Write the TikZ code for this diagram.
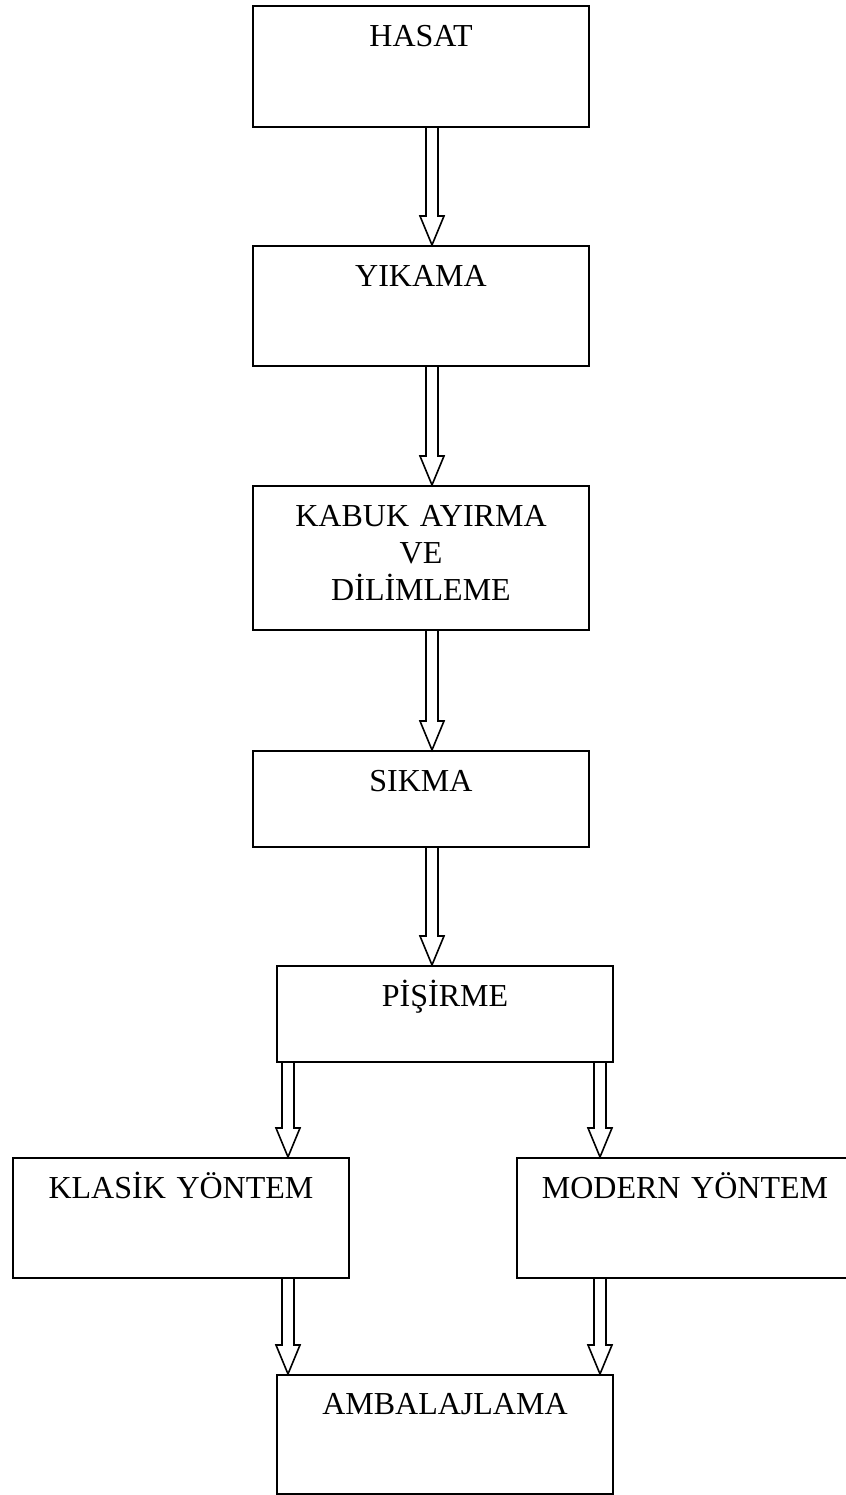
\documentclass[tikz,border=0pt]{standalone}
\usepackage{fontspec}
\setmainfont{Liberation Serif}
\usepackage{tikz}
\usetikzlibrary{calc}

% hollow block arrow from the bottom of #1 to the top of #2, at pixel x = #3
\newcommand{\blokok}[3]{%
  \draw[okcizgi] let \p1=(#1.south), \p2=(#2.north) in
    (#3*0.5pt-3pt,\y1) -- (#3*0.5pt-3pt,\y2+14.5pt) -- (#3*0.5pt-6pt,\y2+14.5pt)
    -- (#3*0.5pt,\y2) -- (#3*0.5pt+6pt,\y2+14.5pt) -- (#3*0.5pt+3pt,\y2+14.5pt)
    -- (#3*0.5pt+3pt,\y1);}

\begin{document}
\begin{tikzpicture}[x=0.5pt,y=-0.5pt,
  kutu/.style={draw, line width=1pt, inner sep=0pt, anchor=north west,
    align=center, text width=168pt, text height=20pt,
    font=\fontsize{16}{18.5}\selectfont},
  okcizgi/.style={draw, line width=0.8pt, line join=miter, fill=white}]

  \clip (0,0) rectangle (846,1495);

  % main chain
  \node[kutu, text depth=40.5pt] (hasat)  at (252,5)   {HASAT};
  \node[kutu, text depth=40pt]   (yikama) at (252,245) {YIKAMA};
  \node[kutu, text depth=52pt]   (kabuk)  at (252,485) {KABUK AYIRMA\\VE\\DİLİMLEME};
  \node[kutu, text depth=28pt]   (sikma)  at (252,750) {SIKMA};
  \node[kutu, text depth=28pt]   (pisirme) at (276,965) {PİŞİRME};

  % two methods
  \node[kutu, text depth=40pt] (klasik) at (12,1157)  {KLASİK YÖNTEM};
  \node[kutu, text depth=40pt] (modern) at (516,1157) {MODERN YÖNTEM};

  % packing
  \node[kutu, text height=19.5pt, text depth=40pt] (ambalaj) at (276,1374) {AMBALAJLAMA};

  % arrows
  \blokok{hasat}{yikama}{432}
  \blokok{yikama}{kabuk}{432}
  \blokok{kabuk}{sikma}{432}
  \blokok{sikma}{pisirme}{432}
  \blokok{pisirme}{klasik}{288}
  \blokok{pisirme}{modern}{600}
  \blokok{klasik}{ambalaj}{288}
  \blokok{modern}{ambalaj}{600}
\end{tikzpicture}
\end{document}
